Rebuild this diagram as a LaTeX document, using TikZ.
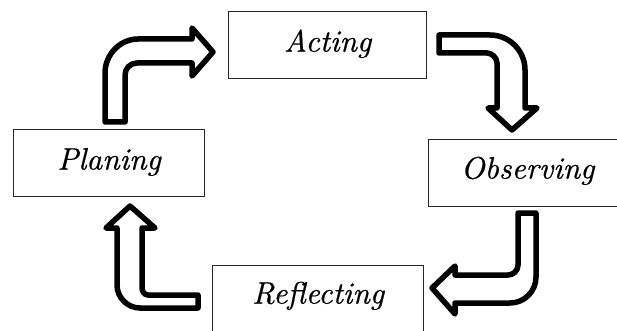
\documentclass[tikz,border=0pt]{standalone}
\usepackage{fontspec}
\newfontfamily\lmit{lmroman10-italic.otf}[FakeBold=0.6]
\begin{document}
\begin{tikzpicture}[x=1pt,y=-1pt,
  stage/.style={draw=black!85, line width=1.2pt, fill=white, inner sep=0pt,
    anchor=north west, font=\fontsize{31}{36}\selectfont\lmit},
  blockarrow/.style={draw=black, line width=5.5pt, fill=white, line join=round}]
\useasboundingbox (0,0) rectangle (617,331);
\clip (0,0) rectangle (617,331);
\fill[white] (0,0) rectangle (617,331);
% boxes
\node[stage, minimum width=198pt, text height=40pt, text depth=27pt] (act) at (228,11) {Acting};
\node[stage, minimum width=191pt, text height=40pt, text depth=27pt] (plan) at (13,129) {Planing};
\node[stage, minimum width=198pt, text height=39pt, text depth=28pt] (obs) at (428,139) {Observing};
\node[stage, minimum width=211pt, text height=38pt, text depth=40pt] (refl) at (212,265) {Reflecting};
% Planing -> Acting
\draw[blockarrow] (105,122) -- (105,73) .. controls (105,54.8) and (119.8,39) .. (138,39)
  -- (192,39) -- (192,28) -- (213,52) -- (192,76) -- (192,63) -- (137,63)
  .. controls (130.4,63) and (125,68.4) .. (125,75) -- (125,122) -- cycle;
% Acting -> Observing
\draw[blockarrow] (439,35) -- (490,35) .. controls (509.3,35) and (525,50.7) .. (525,70)
  -- (525,108) -- (537,108) -- (512,130) -- (488,108) -- (497,108) -- (497,63)
  .. controls (497,57.5) and (491.5,53) .. (487,53) -- (439,53) -- cycle;
% Observing -> Reflecting
\draw[blockarrow] (518,213) -- (536,213) -- (536,277) .. controls (536,291.4) and (524.4,303) .. (510,303)
  -- (455,303) -- (455,314) -- (432,288) -- (455,266) -- (455,275) -- (508,275)
  .. controls (513.5,275) and (518,270.5) .. (518,265) -- cycle;
% Reflecting -> Planing
\draw[blockarrow] (198,295) -- (148,295) .. controls (144.1,295) and (142,290.9) .. (142,288)
  -- (142,228) -- (155,228) -- (130,206) -- (106,228) -- (117,228) -- (117,285)
  .. controls (117,297.3) and (127.3,308) .. (140,308) -- (198,308) -- cycle;
\end{tikzpicture}
\end{document}
